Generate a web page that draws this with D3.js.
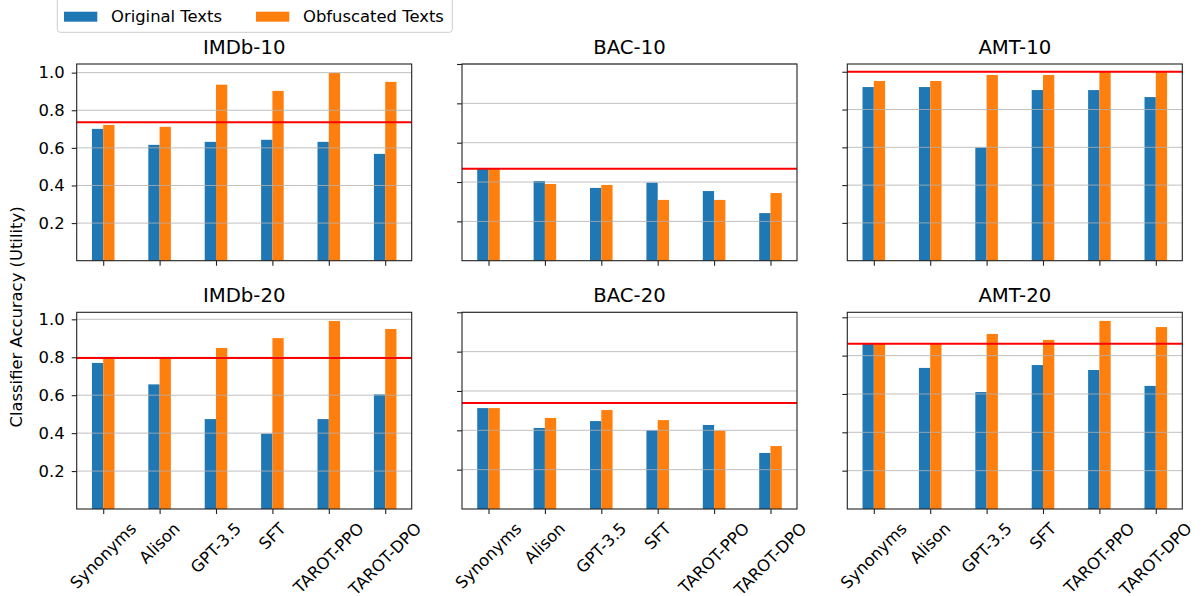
<!DOCTYPE html>
<html>
<head>
<meta charset="utf-8">
<script src="https://cdn.jsdelivr.net/npm/d3@7"></script>
<style>
  body { margin: 0; background: #fff; }
  svg text { font-family: 'DejaVu Sans', sans-serif; fill: #000; }
</style>
</head>
<body>
<svg id="chart" width="1203" height="596"></svg>
<script>
const methods = ['Synonyms', 'Alison', 'GPT-3.5', 'SFT', 'TAROT-PPO', 'TAROT-DPO'];
const datasets = ['IMDb-10', 'BAC-10', 'AMT-10', 'IMDb-20', 'BAC-20', 'AMT-20'];

// one row per dataset, one value per method
const originalAcc = [
  [0.701, 0.616, 0.632, 0.643, 0.632, 0.568],
  [0.466, 0.405, 0.370, 0.397, 0.354, 0.242],
  [0.919, 0.919, 0.599, 0.903, 0.903, 0.866],
  [0.770, 0.657, 0.474, 0.397, 0.474, 0.604],
  [0.513, 0.412, 0.447, 0.400, 0.427, 0.285],
  [0.862, 0.736, 0.610, 0.751, 0.725, 0.642]
];
const obfuscatedAcc = [
  [0.722, 0.712, 0.936, 0.903, 0.998, 0.951],
  [0.466, 0.390, 0.385, 0.309, 0.309, 0.344],
  [0.951, 0.951, 0.983, 0.983, 1.000, 1.000],
  [0.796, 0.796, 0.849, 0.901, 0.991, 0.949],
  [0.513, 0.463, 0.503, 0.452, 0.398, 0.320],
  [0.862, 0.862, 0.913, 0.882, 0.981, 0.949]
];
// red reference line of each panel
const baselineAcc = [0.736, 0.468, 1.0, 0.796, 0.539, 0.862];

// upper y limit of each panel
const yTop = [1.046, 1.0, 1.041, 1.037, 1.0, 1.026];
const yTicks = [0.2, 0.4, 0.6, 0.8, 1.0];

const seriesNames = ['Original Texts', 'Obfuscated Texts'];
const seriesColors = ['#1f77b4', '#ff7f0e'];

const PANEL_LEFT = [76.7, 462, 847.3];
const PANEL_TOP = [64, 312.3];
const PANEL_W = 335;
const PANEL_H = 196.7;
const BAR_W = 0.2;
const LABEL_GAP = 10;
const FONT_PX = 16.4;

let svg = d3.select('#chart');

function drawPanel(k) {
  const row = Math.floor(k / 3);
  const col = k % 3;
  let g = svg.append('g')
      .attr('transform', 'translate(' + PANEL_LEFT[col] + ',' + PANEL_TOP[row] + ')');

  let x = d3.scaleLinear()
      .domain([-BAR_W - 0.27, methods.length - 1 + BAR_W + 0.27])
      .range([0, PANEL_W]);
  let y = d3.scaleLinear()
      .domain([0, yTop[k]])
      .range([PANEL_H, 0]);

  // bars
  [originalAcc[k], obfuscatedAcc[k]].forEach(function(vals, s) {
    g.selectAll(null)
        .data(vals)
      .enter().append('rect')
        .attr('x', function(v, i) { return x(i - BAR_W + s * BAR_W); })
        .attr('width', x(BAR_W) - x(0))
        .attr('y', function(v) { return y(v); })
        .attr('height', function(v) { return PANEL_H - y(v); })
        .attr('fill', seriesColors[s]);
  });

  // grid drawn over the bars, as matplotlib does by default
  g.selectAll(null)
      .data(yTicks)
    .enter().append('line')
      .attr('x1', 0).attr('x2', PANEL_W)
      .attr('y1', function(t) { return y(t); })
      .attr('y2', function(t) { return y(t); })
      .attr('stroke', '#b0b0b0')
      .attr('stroke-opacity', 0.8)
      .attr('stroke-width', 1);

  g.append('line')
      .attr('x1', 0).attr('x2', PANEL_W)
      .attr('y1', y(baselineAcc[k])).attr('y2', y(baselineAcc[k]))
      .attr('stroke', 'red')
      .attr('stroke-width', 2);

  let yAxis = g.append('g')
      .call(d3.axisLeft(y)
        .tickValues(yTicks)
        .tickSize(5)
        .tickPadding(7)
        .tickFormat(col == 0 ? d3.format('.1f') : ''));
  yAxis.select('.domain').remove();
  yAxis.selectAll('text').attr('font-size', FONT_PX).attr('font-family', 'DejaVu Sans');

  let xAxis = g.append('g')
      .attr('transform', 'translate(0,' + PANEL_H + ')')
      .call(d3.axisBottom(x)
        .tickValues(d3.range(methods.length))
        .tickSize(5)
        .tickFormat(''));
  xAxis.select('.domain').remove();

  g.selectAll('.tick line').attr('stroke', '#222').attr('stroke-width', 1.1);

  g.append('rect')
      .attr('width', PANEL_W)
      .attr('height', PANEL_H)
      .attr('fill', 'none')
      .attr('stroke', '#222')
      .attr('stroke-width', 1.1);

  g.append('text')
      .attr('x', PANEL_W / 2)
      .attr('y', -10)
      .attr('text-anchor', 'middle')
      .attr('font-size', 19.7)
      .text(datasets[k]);

  // rotated method names under the bottom row only
  if (row == 1) {
    methods.forEach(function(m, i) {
      let t = g.append('text')
          .attr('font-size', FONT_PX)
          .attr('text-anchor', 'middle')
          .attr('dominant-baseline', 'central')
          .text(m);
      const len = t.node().getComputedTextLength();
      const half = (len + FONT_PX * 1.16) / Math.SQRT2 / 2;
      t.attr('transform', 'translate(' + x(i) + ',' + (PANEL_H + LABEL_GAP + half) + ') rotate(-45)');
    });
  }
}

for (let k = 0; k < datasets.length; k++) {
  drawPanel(k);
}

svg.append('text')
    .attr('transform', 'translate(21.5,317) rotate(-90)')
    .attr('text-anchor', 'middle')
    .attr('font-size', FONT_PX)
    .text('Classifier Accuracy (Utility)');

// legend, partly cut off by the top edge
let legend = svg.append('g');
legend.append('rect')
    .attr('x', 57.3).attr('y', -8)
    .attr('width', 395).attr('height', 40.3)
    .attr('rx', 3)
    .attr('fill', '#fff')
    .attr('stroke', '#cccccc');
const legendX = [64, 256];
seriesNames.forEach(function(name, s) {
  legend.append('rect')
      .attr('x', legendX[s]).attr('y', 11.7)
      .attr('width', 33.3).attr('height', 10)
      .attr('fill', seriesColors[s]);
  legend.append('text')
      .attr('x', legendX[s] + 47)
      .attr('y', 21.7)
      .attr('font-size', FONT_PX)
      .text(name);
});
</script>
</body>
</html>
